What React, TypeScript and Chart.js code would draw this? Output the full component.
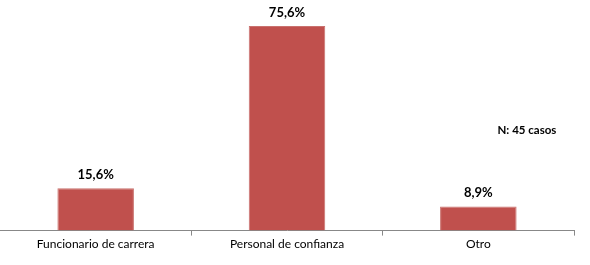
import React, { useEffect, useRef } from "react";
import { Chart, registerables } from "chart.js";

Chart.register(...registerables);

const categories = ["Funcionario de carrera", "Personal de confianza", "Otro"];
const values = [15.6, 75.6, 8.9];
const valueLabels = ["15,6%", "75,6%", "8,9%"];
const noteText = "N: 45 casos";

const labelPlugin = {
  id: "valueLabels",
  afterDatasetsDraw(chart: any) {
    const ctx = chart.ctx;
    const meta = chart.getDatasetMeta(0);
    ctx.save();
    ctx.fillStyle = "#000";
    ctx.font = "bold 13px Lato, 'Open Sans', sans-serif";
    ctx.textAlign = "center";
    ctx.textBaseline = "bottom";
    meta.data.forEach((bar: any, i: number) => {
      ctx.fillText(valueLabels[i], bar.x, bar.y - 7);
    });
    const area = chart.chartArea;
    ctx.font = "bold 11.5px Lato, 'Open Sans', sans-serif";
    ctx.textAlign = "center";
    ctx.textBaseline = "middle";
    ctx.fillText(noteText, area.left + (area.right - area.left) * 0.918, 130);
    ctx.restore();
  },
};

export default function App() {
  const ref = useRef<HTMLCanvasElement>(null);
  useEffect(() => {
    if (!ref.current) return;
    const chart = new Chart(ref.current, {
      type: "bar",
      data: {
        labels: categories,
        datasets: [
          {
            data: values,
            backgroundColor: "#C0504D",
            borderColor: "#C9716E",
            borderWidth: 1,
            barPercentage: 0.4,
            categoryPercentage: 1,
          },
        ],
      },
      options: {
        animation: false,
        responsive: false,
        maintainAspectRatio: false,
        layout: { padding: { top: 14, right: 16, left: 0, bottom: 13 } },
        plugins: { legend: { display: false }, tooltip: { enabled: false } },
        scales: {
          x: {
            grid: {
              display: true,
              drawOnChartArea: false,
              drawTicks: true,
              tickLength: 5,
              offset: true,
              color: "#888",
            },
            border: { display: true, color: "#888" },
            ticks: {
              color: "#000",
              font: { family: "Lato, 'Open Sans', sans-serif", size: 12 },
              padding: 1,
              maxRotation: 0,
            },
          },
          y: {
            display: false,
            min: 0,
            max: 80,
          },
        },
      },
      plugins: [labelPlugin],
    });
    return () => chart.destroy();
  }, []);
  return (
    <div style={{ position: "fixed", left: 0, top: 0, width: 590, height: 265, background: "#fff" }}>
      <canvas ref={ref} width={590} height={265} style={{ display: "block" }} />
    </div>
  );
}
